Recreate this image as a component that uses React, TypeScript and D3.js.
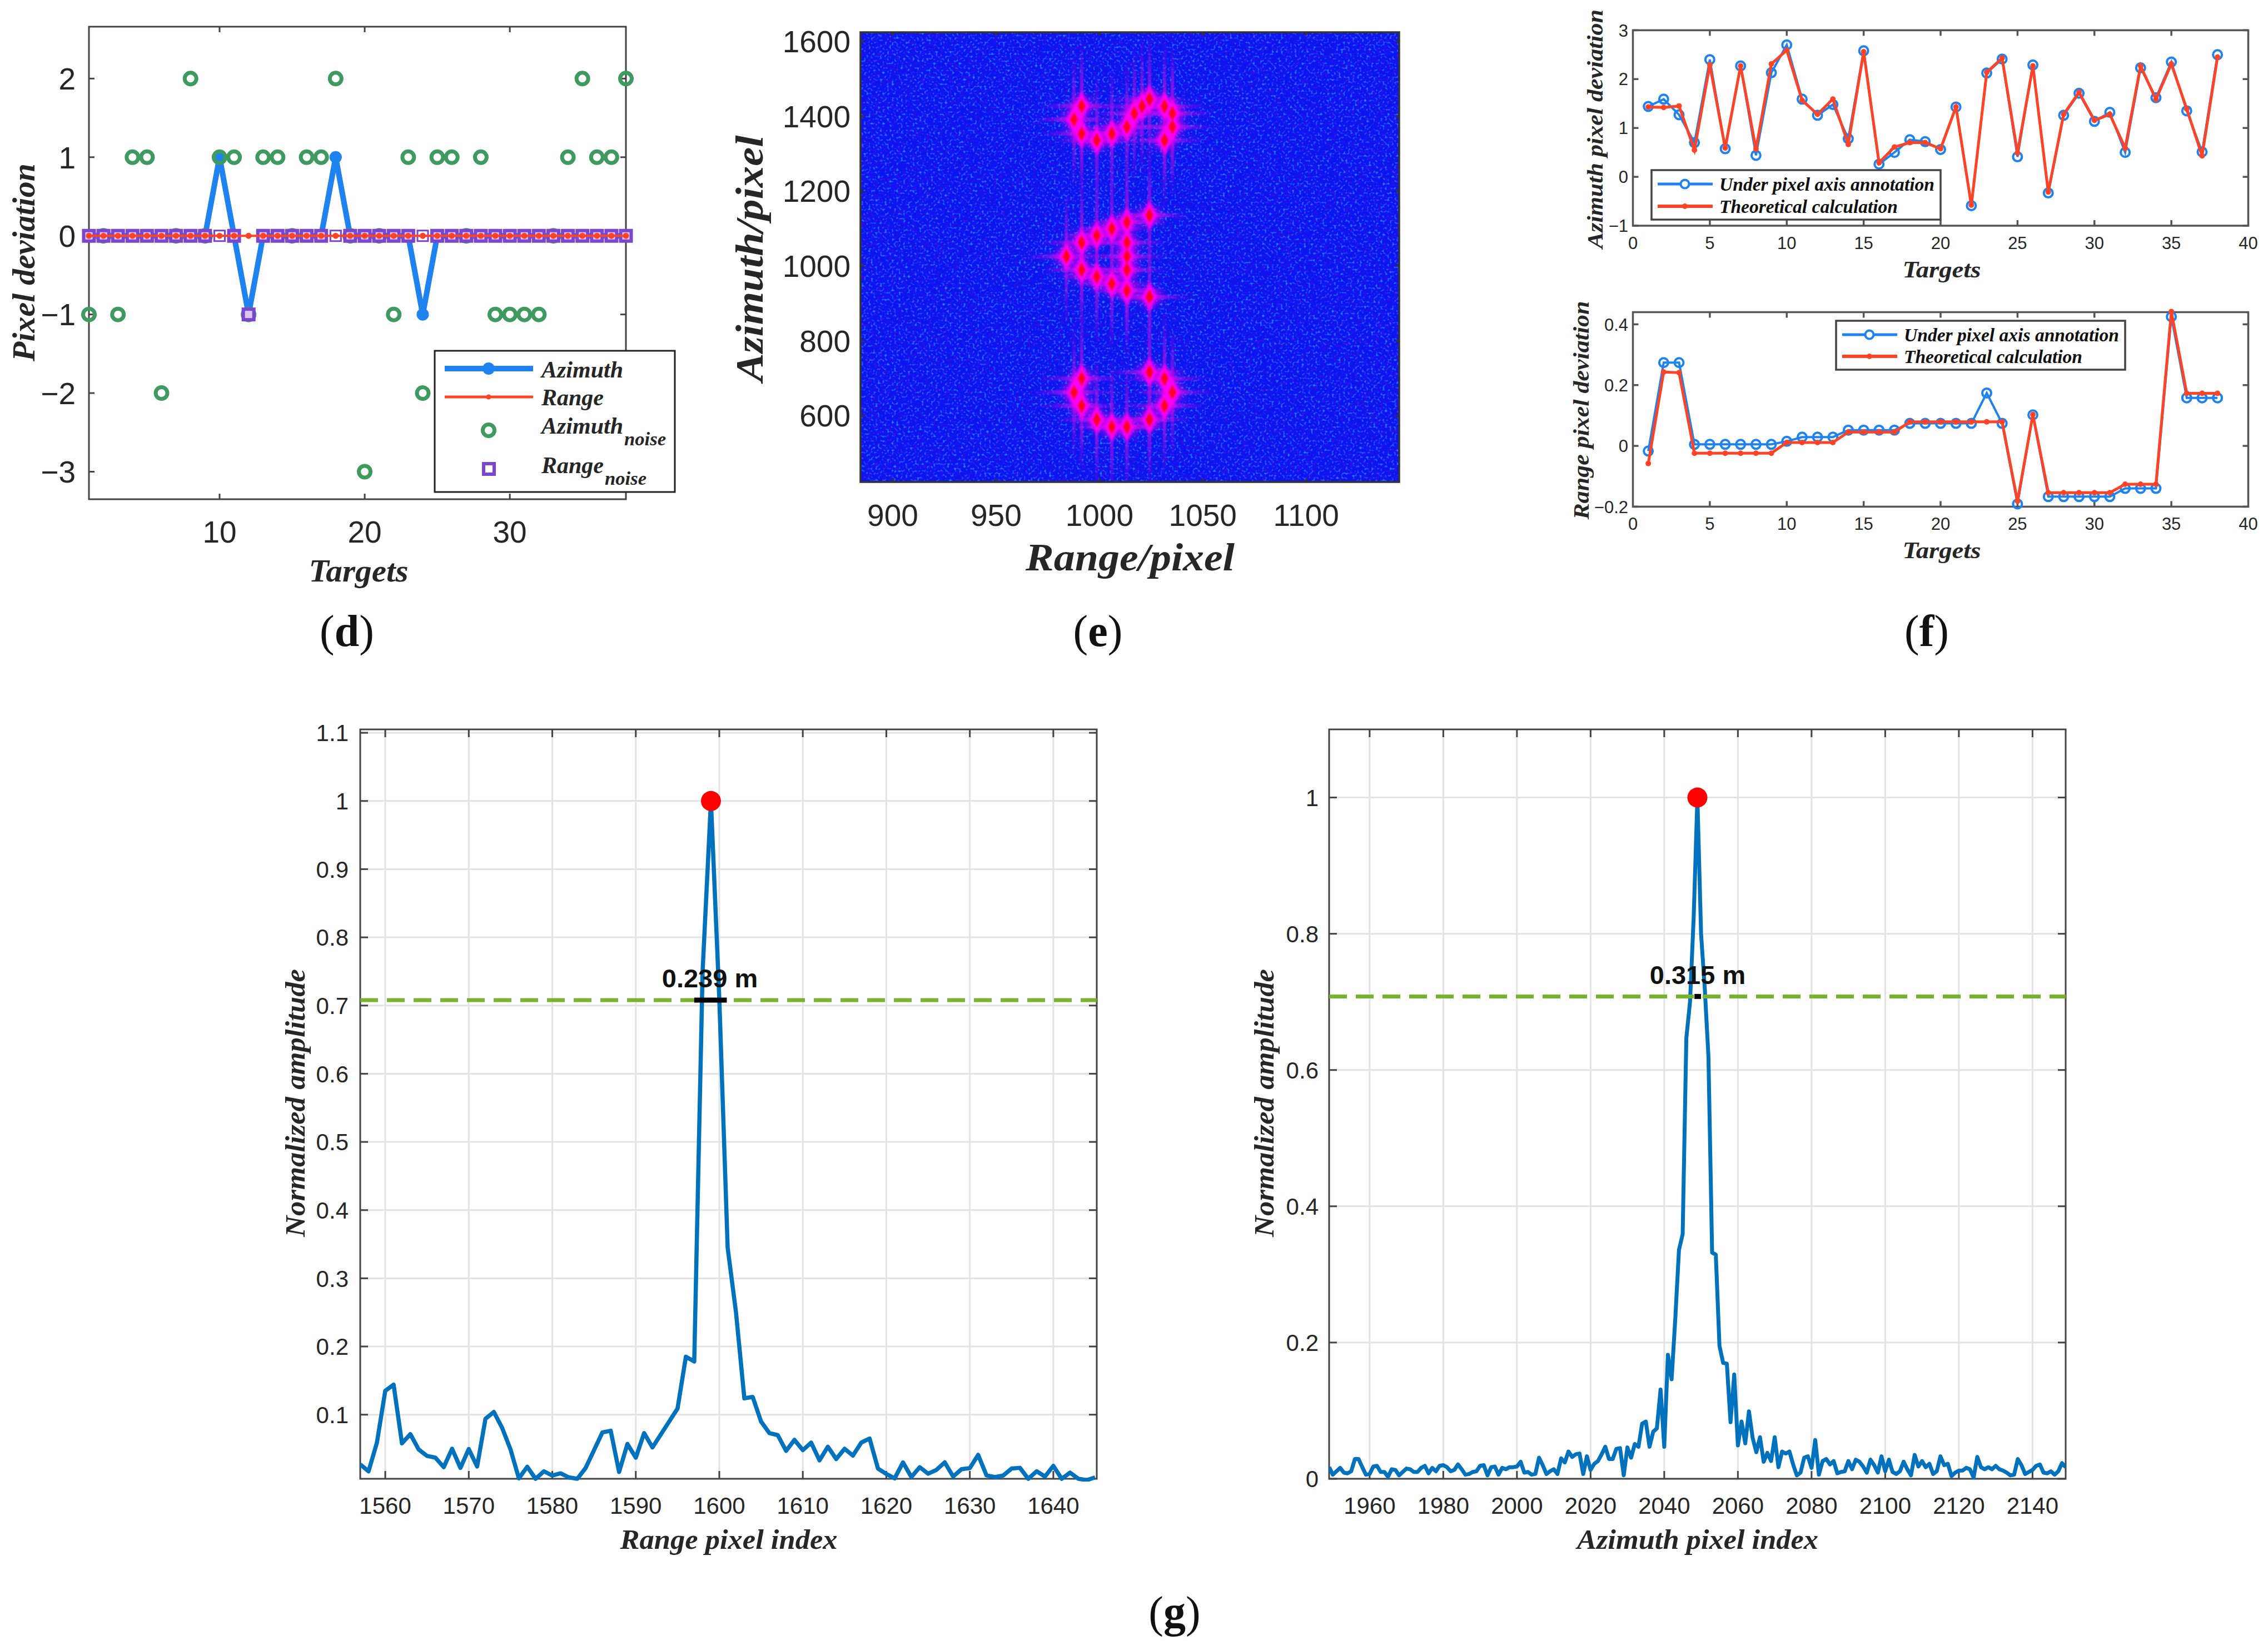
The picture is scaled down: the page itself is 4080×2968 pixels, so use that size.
import React from "react";
import * as d3 from "d3";

const W = 4080, H = 2968;
const SANS = "'Liberation Sans', Arial, sans-serif";
const SERIF = "'Liberation Serif', 'Times New Roman', serif";
const INK = "#262626";

// ---------- panel (d)
const dAzimuth = [0,0,0,0,0,0,0,0,0,1,0,-1,0,0,0,0,0,1,0,0,0,0,0,-1,0,0,0,0,0,0,0,0,0,0,0,0,0,0];
const dRange = [0,0,0,0,0,0,0,0,0,0,0,0,0,0,0,0,0,0,0,0,0,0,0,0,0,0,0,0,0,0,0,0,0,0,0,0,0,0];
const dAzimuthNoise = [-1,0,-1,1,1,-2,0,2,0,1,1,-1,1,1,0,1,1,2,0,-3,0,-1,1,-2,1,1,0,1,-1,-1,-1,-1,0,1,2,1,1,2];
const dRangeNoise = [0,0,0,0,0,0,0,0,0,0,0,-1,0,0,0,0,0,0,0,0,0,0,0,0,0,0,0,0,0,0,0,0,0,0,0,0,0,0];
const dFaintSquares = [10, 18, 24];
const dXTicks = [10, 20, 30];
const dYTicks = [2, 1, 0, -1, -2, -3];

// ---------- panel (e): [range, azimuth] of the point targets
const eTargets: [number, number][] = [
  [991.4,1427],[987.7,1391],[991.4,1353],[998.7,1335],[1006,1353],[1013.3,1371],[1016.9,1407],[1020.6,1426],[1024.2,1445],[1031.5,1426],[1035.3,1407],[1035.3,1371],[1031.5,1335],
  [1024.2,1135],[1013.3,1117],[1006,1099],[998.7,1081],[991.4,1062],[984,1025],[1013.3,1062],[1013.3,1025],[1013.3,989],[991.4,989],[998.7,971],[1006,952],[1013.3,934],[1024.2,917],
  [1024.2,716],[1031.5,699],[991.4,699],[987.7,662],[1035.3,662],[991.4,626],[1031.5,626],[998.7,589],[1024.2,589],[1006,570],[1013.3,570],
];
const eXTicks = [900, 950, 1000, 1050, 1100];
const eYTicks = [600, 800, 1000, 1200, 1400, 1600];

// ---------- panel (f)
const fAzMeasured = [1.44,1.59,1.27,0.70,2.40,0.575,2.27,0.44,2.13,2.70,1.59,1.26,1.48,0.78,2.58,0.26,0.50,0.76,0.72,0.56,1.43,-0.59,2.125,2.41,0.41,2.29,-0.33,1.26,1.71,1.135,1.32,0.50,2.23,1.62,2.35,1.35,0.51,2.50];
const fAzTheory = [1.43,1.42,1.45,0.55,2.29,0.59,2.27,0.57,2.31,2.59,1.565,1.28,1.59,0.665,2.56,0.29,0.61,0.70,0.70,0.575,1.43,-0.58,2.14,2.43,0.49,2.27,-0.31,1.28,1.73,1.155,1.28,0.59,2.27,1.585,2.31,1.39,0.43,2.45];
const fRgMeasured = [-0.017,0.274,0.274,0.005,0.005,0.005,0.005,0.005,0.005,0.015,0.029,0.029,0.029,0.052,0.052,0.052,0.052,0.074,0.074,0.074,0.074,0.074,0.174,0.074,-0.191,0.102,-0.167,-0.167,-0.167,-0.167,-0.167,-0.14,-0.14,-0.14,0.425,0.158,0.158,0.158];
const fRgTheory = [-0.058,0.243,0.241,-0.024,-0.024,-0.024,-0.024,-0.024,-0.024,0.011,0.011,0.011,0.011,0.0455,0.0455,0.0455,0.0455,0.079,0.079,0.079,0.079,0.079,0.079,0.079,-0.182,0.103,-0.154,-0.154,-0.154,-0.154,-0.154,-0.126,-0.126,-0.126,0.442,0.173,0.173,0.173];
const fXTicks = [0, 5, 10, 15, 20, 25, 30, 35, 40];
const fAzYTicks = [-1, 0, 1, 2, 3];
const fRgYTicks = [-0.2, 0, 0.2, 0.4];

// ---------- panel (g)
const gRangeStart = 1557;
const gRangeAmp = [0.027,0.017,0.059,0.135,0.144,0.058,0.0715,0.049,0.0395,0.037,0.023,0.05,0.022,0.0496,0.024,0.094,0.104,0.0805,0.049,0.0066,0.0236,0.006,0.017,0.0107,0.014,0.008,0.006,0.022,0.048,0.074,0.0764,0.016,0.057,0.037,0.073,0.052,0.071,0.09,0.109,0.185,0.178,0.75,1,0.71,0.345,0.25,0.124,0.126,0.09,0.073,0.07,0.047,0.063,0.048,0.059,0.033,0.053,0.035,0.05,0.04,0.059,0.065,0.021,0.013,0.0066,0.03,0.0085,0.023,0.0134,0.019,0.03,0.0093,0.02,0.0216,0.041,0.011,0.0085,0.0107,0.021,0.022,0.006,0.017,0.0093,0.025,0.006,0.015,0.006,0.004,0.008];
const gRangeXTicks = [1560,1570,1580,1590,1600,1610,1620,1630,1640];
const gRangeYTicks = [0.1,0.2,0.3,0.4,0.5,0.6,0.7,0.8,0.9,1,1.1];
const gAzStart = 1949;
const gAzAmp = [0.017,0.006,0.011,0.016,0.009,0.008,0.011,0.029,0.029,0.017,0.006,0.007,0.018,0.019,0.01,0.01,0.003,0.014,0.013,0.005,0.01,0.015,0.014,0.01,0.01,0.016,0.019,0.008,0.016,0.011,0.019,0.02,0.017,0.011,0.013,0.021,0.014,0.006,0.007,0.01,0.011,0.019,0.02,0.005,0.017,0.018,0.006,0.016,0.014,0.017,0.017,0.018,0.025,0.009,0.01,0.006,0.007,0.031,0.02,0.007,0.011,0.014,0.007,0.03,0.024,0.04,0.032,0.036,0.037,0.007,0.033,0.013,0.022,0.026,0.036,0.047,0.029,0.029,0.044,0.045,0.005,0.046,0.031,0.051,0.047,0.081,0.084,0.047,0.069,0.074,0.131,0.047,0.182,0.146,0.235,0.336,0.359,0.647,0.7,0.825,1,0.8,0.72,0.62,0.332,0.329,0.195,0.17,0.169,0.083,0.153,0.049,0.084,0.052,0.099,0.06,0.039,0.061,0.025,0.038,0.026,0.061,0.017,0.04,0.037,0.04,0.021,0.005,0.009,0.031,0.033,0.016,0.057,0.006,0.026,0.029,0.021,0.026,0.008,0.01,0.011,0.026,0.014,0.028,0.025,0.018,0.009,0.028,0.02,0.009,0.033,0.011,0.028,0.01,0.007,0.011,0.025,0.014,0.005,0.035,0.018,0.026,0.017,0.022,0.007,0.011,0.033,0.02,0.022,0.004,0.009,0.012,0.012,0.016,0.014,0.002,0.032,0.017,0.014,0.017,0.014,0.019,0.014,0.012,0.009,0.005,0.006,0.029,0.02,0.007,0.01,0.013,0.019,0.021,0.009,0.008,0.011,0.006,0.011,0.023,0.017];
const gAzXTicks = [1960,1980,2000,2020,2040,2060,2080,2100,2120,2140];
const gAzYTicks = [0,0.2,0.4,0.6,0.8,1];
const gHalfPower = 0.708;
const gRangeWidth = [1597, 1600.9];
const gAzWidth = [2048.2, 2050];

type Sc = d3.ScaleLinear<number, number>;
const indexed = (v: number[], start = 1) => v.map((y, i) => [start + i, y] as [number, number]);
const lineOf = (x: Sc, y: Sc, v: [number, number][]) =>
  d3.line<[number, number]>().x((p) => x(p[0])).y((p) => y(p[1]))(v) || "";

function Txt({ x, y, size, anchor = "middle", serifBI = false, bold = false, rotate = false, len, fill = INK, children }: any) {
  return (
    <text
      x={rotate ? 0 : x}
      y={rotate ? 0 : y}
      transform={rotate ? `translate(${x},${y}) rotate(-90)` : undefined}
      textAnchor={anchor}
      fontFamily={serifBI ? SERIF : SANS}
      fontStyle={serifBI ? "italic" : "normal"}
      fontWeight={serifBI || bold ? 700 : 400}
      fontSize={size}
      fill={fill}
      textLength={len}
      lengthAdjust={len ? "spacingAndGlyphs" : undefined}
    >
      {children}
    </text>
  );
}

function Axes({ x, y, xTicks, yTicks, tick, size, xLabelY, yLabelX, sw = 3, grid = false, stroke = "#333", fmtY = (v: number) => String(v).replace("-", "\u2212"), labelH = 0.36 }: any) {
  const [l, r] = x.range();
  const [b, t] = y.range();
  return (
    <g>
      {grid && xTicks.map((v: number) => <line key={"gx" + v} x1={x(v)} x2={x(v)} y1={t} y2={b} stroke="#e3e3e3" strokeWidth={3} />)}
      {grid && yTicks.map((v: number) => <line key={"gy" + v} x1={l} x2={r} y1={y(v)} y2={y(v)} stroke="#e3e3e3" strokeWidth={3} />)}
      <rect x={l} y={t} width={r - l} height={b - t} fill="none" stroke={stroke} strokeWidth={sw} />
      {xTicks.map((v: number) => (
        <g key={"x" + v}>
          {x(v) > l + 2 && x(v) < r - 2 && <>
            <line x1={x(v)} x2={x(v)} y1={b} y2={b - tick} stroke={stroke} strokeWidth={sw} />
            <line x1={x(v)} x2={x(v)} y1={t} y2={t + tick} stroke={stroke} strokeWidth={sw} />
          </>}
          <Txt x={x(v)} y={xLabelY + size * labelH} size={size}>{v}</Txt>
        </g>
      ))}
      {yTicks.map((v: number) => (
        <g key={"y" + v}>
          <line x1={l} x2={l + tick} y1={y(v)} y2={y(v)} stroke={stroke} strokeWidth={sw} />
          <line x1={r} x2={r - tick} y1={y(v)} y2={y(v)} stroke={stroke} strokeWidth={sw} />
          <Txt x={yLabelX} y={y(v) + size * labelH} size={size} anchor="end">{fmtY(v)}</Txt>
        </g>
      ))}
    </g>
  );
}

function Caption({ x, y, letter }: any) {
  return (
    <text x={x} y={y} textAnchor="middle" fontFamily={SERIF} fontSize={80} fill="#111">
      (<tspan fontWeight={700}>{letter}</tspan>)
    </text>
  );
}

const BLUE = "#1E82F0";
const RED = "#FF4326";
const GREEN = "#3F9A5F";
const PURPLE = "#7B45CF";

function PanelD() {
  const x = d3.scaleLinear().domain([1, 38]).range([160, 1126]);
  const y = d3.scaleLinear().domain([-3.35, 2.66]).range([898, 48]);
  return (
    <g>
      <Axes x={x} y={y} xTicks={dXTicks} yTicks={dYTicks} tick={10} size={55} xLabelY={956} yLabelX={136} stroke="#444" />
      <path d={lineOf(x, y, indexed(dAzimuth))} fill="none" stroke={BLUE} strokeWidth={10} />
      {indexed(dAzimuth).map(([a, b]) => b !== 0 && <circle key={a} cx={x(a)} cy={y(b)} r={11} fill={BLUE} />)}
      {indexed(dAzimuthNoise).map(([a, b]) => <circle key={a} cx={x(a)} cy={y(b)} r={10.5} fill="none" stroke={GREEN} strokeWidth={7} />)}
      {indexed(dRangeNoise).map(([a, b]) => (
        <rect key={a} x={x(a) - 9.5} y={y(b) - 9.5} width={19} height={19} fill={dFaintSquares.includes(a) ? "none" : "#D9C9F2"} stroke={PURPLE} strokeWidth={dFaintSquares.includes(a) ? 3 : 6} />
      ))}
      <path d={lineOf(x, y, indexed(dRange))} fill="none" stroke={RED} strokeWidth={4} />
      {indexed(dRange).map(([a, b]) => <circle key={a} cx={x(a)} cy={y(b)} r={5.5} fill={RED} />)}
      <rect x={782} y={631} width={432} height={254} fill="#fff" stroke="#222" strokeWidth={3} />
      <line x1={800} x2={959} y1={663} y2={663} stroke={BLUE} strokeWidth={10} />
      <circle cx={879} cy={663} r={11} fill={BLUE} />
      <line x1={800} x2={959} y1={714} y2={714} stroke={RED} strokeWidth={5} />
      <circle cx={879} cy={714} r={4.5} fill={RED} />
      <circle cx={879} cy={774} r={10.5} fill="none" stroke={GREEN} strokeWidth={7} />
      <rect x={870} y={834} width={19} height={19} fill="none" stroke={PURPLE} strokeWidth={6} />
      <Txt x={974} y={679} size={43} anchor="start" serifBI len={147}>Azimuth</Txt>
      <Txt x={974} y={729} size={43} anchor="start" serifBI len={112}>Range</Txt>
      <Txt x={974} y={780} size={43} anchor="start" serifBI len={147}>Azimuth</Txt>
      <Txt x={1123} y={801} size={33} anchor="start" serifBI len={75}>noise</Txt>
      <Txt x={974} y={851} size={43} anchor="start" serifBI len={112}>Range</Txt>
      <Txt x={1088} y={872} size={33} anchor="start" serifBI len={75}>noise</Txt>
      <Txt x={62} y={472} size={56} serifBI rotate len={356}>Pixel deviation</Txt>
      <Txt x={645} y={1046} size={56} serifBI len={179}>Targets</Txt>
      <Caption x={624} y={1162} letter="d" />
    </g>
  );
}

function PanelE() {
  const x = d3.scaleLinear().domain([884.4, 1145]).range([1548, 2517]);
  const y = d3.scaleLinear().domain([422.6, 1624]).range([867, 58]);
  const [l, r] = x.range();
  const [b, t] = y.range();
  const diamond = (cx: number, cy: number, w: number, h: number) =>
    `${cx - w},${cy} ${cx},${cy - h} ${cx + w},${cy} ${cx},${cy + h}`;
  return (
    <g>
      <defs>
        <clipPath id="eClip"><rect x={l} y={t} width={r - l} height={b - t} /></clipPath>
        <linearGradient id="eStripe" x1="0" y1="0" x2="0" y2="1">
          <stop offset="0" stopColor="#8C10E0" stopOpacity={0} />
          <stop offset="0.35" stopColor="#9A10E8" stopOpacity={0.75} />
          <stop offset="0.65" stopColor="#9A10E8" stopOpacity={0.75} />
          <stop offset="1" stopColor="#8C10E0" stopOpacity={0} />
        </linearGradient>
        <linearGradient id="eFlare" x1="0" y1="0" x2="1" y2="0">
          <stop offset="0" stopColor="#B010F0" stopOpacity={0} />
          <stop offset="0.5" stopColor="#D010F0" stopOpacity={0.8} />
          <stop offset="1" stopColor="#B010F0" stopOpacity={0} />
        </linearGradient>
        <filter id="speckA" x="0" y="0" width="1" height="1" colorInterpolationFilters="sRGB">
          <feTurbulence type="fractalNoise" baseFrequency="0.24" numOctaves={1} seed={7} />
          <feColorMatrix type="matrix" values="0 0 0 0 0.12  0 0 0 0 0.52  0 0 0 0 1  4 0 0 0 -2.15" />
        </filter>
        <filter id="speckB" x="0" y="0" width="1" height="1" colorInterpolationFilters="sRGB">
          <feTurbulence type="fractalNoise" baseFrequency="0.24" numOctaves={1} seed={19} />
          <feColorMatrix type="matrix" values="0 0 0 0 0.34  0 0 0 0 0.02  0 0 0 0 0.85  0 4 0 0 -2.2" />
        </filter>
        <filter id="blurWide"><feGaussianBlur stdDeviation={7} /></filter>
        <filter id="blurMid"><feGaussianBlur stdDeviation={2.4} /></filter>
        <filter id="blurFine"><feGaussianBlur stdDeviation={1} /></filter>
      </defs>
      <g clipPath="url(#eClip)">
        <rect x={l} y={t} width={r - l} height={b - t} fill="#0C14F0" />
        <rect x={l} y={t} width={r - l} height={b - t} filter="url(#speckB)" />
        <rect x={l} y={t} width={r - l} height={b - t} filter="url(#speckA)" />
        <g filter="url(#blurFine)">
          {eTargets.map(([a, c], i) => (
            <g key={i}>
              <rect x={x(a) - 3} y={y(c) - 125} width={6} height={250} fill="url(#eStripe)" />
              <rect x={x(a) - 75} y={y(c) - 4} width={150} height={8} fill="url(#eFlare)" />
            </g>
          ))}
        </g>
        <g filter="url(#blurWide)">
          {eTargets.map(([a, c], i) => (
            <ellipse key={i} cx={x(a)} cy={y(c)} rx={22} ry={17} fill="#C800F0" fillOpacity={0.7} />
          ))}
        </g>
        <g filter="url(#blurMid)">
          {eTargets.map(([a, c], i) => (
            <polygon key={i} points={diamond(x(a), y(c), 14, 27)} fill="#FF00F0" fillOpacity={0.95} />
          ))}
        </g>
        <g filter="url(#blurFine)">
          {eTargets.map(([a, c], i) => (
            <polygon key={i} points={diamond(x(a), y(c), 7, 13)} fill="#FF0028" />
          ))}
        </g>
      </g>
      <Axes x={x} y={y} xTicks={eXTicks} yTicks={eYTicks} tick={6} size={55} xLabelY={926} yLabelX={1530} sw={3.5} />
      <Txt x={2033} y={1026} size={70} serifBI len={376}>Range/pixel</Txt>
      <Txt x={1372} y={465} size={70} serifBI rotate len={443}>Azimuth/pixel</Txt>
      <Caption x={1975} y={1162} letter="e" />
    </g>
  );
}

function PanelF({ top, bottom, domain, yTicks, a, b, legend, rows, yTitle, yTitleX, yTitleY, yTitleLen, labelY, titleY, capY }: any) {
  const x = d3.scaleLinear().domain([0, 40]).range([2937.5, 4044.5]);
  const y = d3.scaleLinear().domain(domain).range([bottom, top]);
  return (
    <g>
      <Axes x={x} y={y} xTicks={fXTicks} yTicks={yTicks} tick={10} size={31} xLabelY={labelY} yLabelX={2929} sw={3.5} stroke="#555" />
      <path d={lineOf(x, y, indexed(a))} fill="none" stroke={BLUE} strokeWidth={4} />
      {indexed(a).map(([p, q]) => <circle key={p} cx={x(p)} cy={y(q)} r={8} fill="none" stroke={BLUE} strokeWidth={4} />)}
      <path d={lineOf(x, y, indexed(b))} fill="none" stroke={RED} strokeWidth={5} />
      {indexed(b).map(([p, q]) => <circle key={p} cx={x(p)} cy={y(q)} r={5} fill={RED} />)}
      <rect x={legend[0]} y={legend[1]} width={legend[2]} height={legend[3]} fill="#fff" stroke="#444" strokeWidth={3.5} />
      <line x1={legend[0] + 11} x2={legend[0] + 110} y1={rows[0]} y2={rows[0]} stroke={BLUE} strokeWidth={5} />
      <circle cx={legend[0] + 60} cy={rows[0]} r={7.5} fill="#fff" stroke={BLUE} strokeWidth={4} />
      <line x1={legend[0] + 11} x2={legend[0] + 110} y1={rows[1]} y2={rows[1]} stroke={RED} strokeWidth={6} />
      <circle cx={legend[0] + 60} cy={rows[1]} r={5} fill={RED} />
      <Txt x={legend[0] + 122} y={rows[0] + 12} size={34} anchor="start" serifBI len={387} fill="#111">Under pixel axis annotation</Txt>
      <Txt x={legend[0] + 122} y={rows[1] + 12} size={34} anchor="start" serifBI len={321} fill="#111">Theoretical calculation</Txt>
      <Txt x={yTitleX} y={yTitleY} size={39} serifBI rotate len={yTitleLen}>{yTitle}</Txt>
      <Txt x={3493} y={titleY} size={42} serifBI len={141}>Targets</Txt>
      {capY && <Caption x={3466} y={capY} letter="f" />}
    </g>
  );
}

function PanelG({ left, right, xDomain, yDomain, amp, start, xTicks, yTicks, peak, width, label, labelX, labelY, yLabelX, title, titleX, titleLen, ampX, sw, clipId, fmtY }: any) {
  const x = d3.scaleLinear().domain(xDomain).range([left, right]);
  const y = d3.scaleLinear().domain(yDomain).range([2660, 1312]);
  const pts = indexed(amp, start);
  return (
    <g>
      <defs><clipPath id={clipId}><rect x={left} y={1312 - 12} width={right - left} height={1348 + 17} /></clipPath></defs>
      <Axes x={x} y={y} xTicks={xTicks} yTicks={yTicks} tick={14} size={42} xLabelY={2708} yLabelX={yLabelX} grid stroke="#444" fmtY={fmtY} />
      <path d={lineOf(x, y, pts)} fill="none" stroke="#0072BD" strokeWidth={sw} strokeLinejoin="round" clipPath={`url(#${clipId})`} />
      <line x1={left} x2={right} y1={y(gHalfPower)} y2={y(gHalfPower)} stroke="#77B32B" strokeWidth={7} strokeDasharray="32 16" />
      <line x1={x(width[0])} x2={x(width[1])} y1={y(gHalfPower)} y2={y(gHalfPower)} stroke="#000" strokeWidth={9} />
      <circle cx={x(peak)} cy={y(1)} r={18} fill="#FF0000" />
      <Txt x={labelX} y={labelY} size={47} bold fill="#111">{label}</Txt>
      <Txt x={titleX} y={2786} size={51} serifBI len={titleLen}>{title}</Txt>
      <Txt x={ampX} y={1984} size={51} serifBI rotate len={482}>Normalized amplitude</Txt>
    </g>
  );
}

export default function App() {
  return (
    <svg width={W} height={H} viewBox={`0 0 ${W} ${H}`} style={{ position: "absolute", left: 0, top: 0, background: "#fff" }}>
      <rect width={W} height={H} fill="#fff" />
      <PanelD />
      <PanelE />
      <PanelF top={54.4} bottom={406} domain={[-1, 3]} yTicks={fAzYTicks} a={fAzMeasured} b={fAzTheory}
        legend={[2971, 306, 520, 89]} rows={[331, 371]} yTitle="Azimuth pixel deviation" yTitleX={2883} yTitleY={232} yTitleLen={430}
        labelY={437} titleY={499} />
      <PanelF top={561.5} bottom={911.4} domain={[-0.2, 0.44]} yTicks={fRgYTicks} a={fRgMeasured} b={fRgTheory}
        legend={[3303, 577, 520, 88]} rows={[602, 641]} yTitle="Range pixel deviation" yTitleX={2858} yTitleY={738} yTitleLen={393}
        labelY={942} titleY={1004} capY={1162} />
      <PanelG left={648} right={1973} xDomain={[1557, 1645.2]} yDomain={[0.006, 1.105]} amp={gRangeAmp} start={gRangeStart}
        xTicks={gRangeXTicks} yTicks={gRangeYTicks} peak={1599} width={gRangeWidth} label="0.239 m" labelX={1277} labelY={1776}
        yLabelX={627} title="Range pixel index" titleX={1311} titleLen={391} ampX={548} sw={7.5} clipId="gClipA" />
      <PanelG left={2391} right={3716} xDomain={[1949, 2149]} yDomain={[0, 1.1]} amp={gAzAmp} start={gAzStart}
        xTicks={gAzXTicks} yTicks={gAzYTicks} peak={2049} width={gAzWidth} label="0.315 m" labelX={3054} labelY={1770}
        yLabelX={2372} title="Azimuth pixel index" titleX={3054} titleLen={434} ampX={2291} sw={7} clipId="gClipB" />
      <Caption x={2113} y={2927} letter="g" />
    </svg>
  );
}
